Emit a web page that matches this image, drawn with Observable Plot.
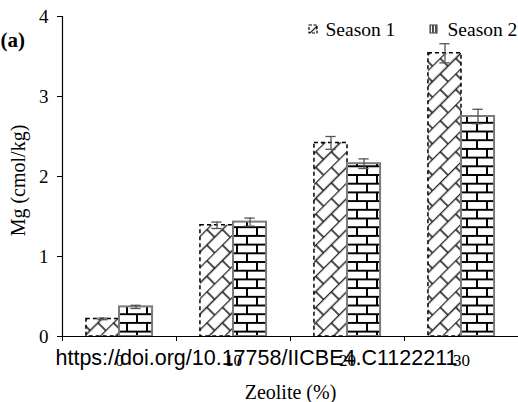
<!DOCTYPE html>
<html><head><meta charset="utf-8">
<script src="https://cdn.jsdelivr.net/npm/d3@7"></script>
<script src="https://cdn.jsdelivr.net/npm/@observablehq/plot@0.6"></script>
<style>body{margin:0;background:#fff} #chart{width:518px;height:402px}</style>
</head><body><div id="chart"></div>
<script>
const zeolite = ["0", "10", "20", "30"];
const season1 = [0.22, 1.39, 2.42, 3.54];
const season2 = [0.37, 1.43, 2.16, 2.75];
const err1 = [0.01, 0.04, 0.08, 0.12];
const err2 = [0.02, 0.05, 0.06, 0.09];
const seriesNames = ["Season 1", "Season 2"];
const yTicks = [0, 1, 2, 3, 4];
const yLabel = "Mg (cmol/kg)";
const xLabel = "Zeolite (%)";
const panelTag = "(a)";
const doiText = "https://doi.org/10.17758/IICBE4.C1122211";

const barW = 0.29;
const rows = [];
zeolite.forEach((z, i) => {
  rows.push({z, s: 0, v: season1[i], e: err1[i], x1: i + 0.5 - barW, x2: i + 0.5});
  rows.push({z, s: 1, v: season2[i], e: err2[i], x1: i + 0.5, x2: i + 0.5 + barW});
});
rows.forEach(d => d.c = (d.x1 + d.x2) / 2);
const capW = 0.045;
const serif = "'Liberation Serif', 'Times New Roman', serif";

const plot = Plot.plot({
  width: 518, height: 402,
  marginLeft: 62, marginRight: 0, marginTop: 16, marginBottom: 66,
  x: {type: "linear", domain: [0, 4]},
  y: {domain: [0, 4]},
  style: {fontFamily: serif, fontSize: "16px", background: "white", color: "black", overflow: "visible"},
  marks: [
    Plot.text([doiText], {frameAnchor: "bottom-left", dx: -7, dy: 22, textAnchor: "start", lineAnchor: "middle",
      fontFamily: "'Liberation Sans', Arial, sans-serif", fontSize: 21.5, fill: "black"}),
    Plot.rectY(rows.filter(d => d.s === 0), {x1: "x1", x2: "x2", y1: 0, y2: "v",
      fill: "url(#hatch1)", stroke: "black", strokeWidth: 1.5, strokeDasharray: "4,3"}),
    Plot.rectY(rows.filter(d => d.s === 1), {x1: "x1", x2: "x2", y1: 0, y2: "v",
      fill: "url(#brick2)", stroke: "#7a7a7a", strokeWidth: 2}),
    Plot.ruleX(rows, {x: "c", y1: d => d.v - d.e, y2: d => d.v + d.e, stroke: "#555", strokeWidth: 1.3}),
    Plot.ruleY(rows, {y: d => d.v + d.e, x1: d => d.c - capW, x2: d => d.c + capW, stroke: "#555", strokeWidth: 1.3}),
    Plot.ruleY(rows, {y: d => d.v - d.e, x1: d => d.c - capW, x2: d => d.c + capW, stroke: "#555", strokeWidth: 1.3}),
    Plot.ruleX([0], {stroke: "black", strokeWidth: 1.2}),
    Plot.ruleY([0], {stroke: "black", strokeWidth: 1.2}),
    Plot.axisY({ticks: yTicks, tickSize: 5, tickPadding: 9, fontSize: 19, label: null, tickFormat: d => String(d)}),
    Plot.axisX({ticks: [0, 1, 2, 3, 4], tickSize: 5, tickFormat: () => "", label: null}),
    Plot.axisX({ticks: zeolite.map((z, i) => i + 0.5), tickFormat: d => zeolite[Math.floor(d)],
      tickSize: 0, tickPadding: 17, fontSize: 17, label: null}),
    Plot.text([yLabel], {frameAnchor: "left", dx: -44, dy: 4, rotate: -90, textAnchor: "middle", lineAnchor: "middle", fontSize: 20}),
    Plot.text([xLabel], {frameAnchor: "bottom", dy: 56, textAnchor: "middle", lineAnchor: "middle", fontSize: 20}),
    Plot.text([panelTag], {frameAnchor: "top-left", dx: -62, dy: 24, textAnchor: "start", lineAnchor: "middle", fontWeight: "bold", fontSize: 21}),
    // legend
    Plot.rect([seriesNames[0]], {insetLeft: 309 - 62, insetRight: 518 - 317, insetTop: 25 - 16, insetBottom: 336 - 33,
      fill: "url(#hatch1)", stroke: "black", strokeWidth: 1.2, strokeDasharray: "3,1.5"}),
    Plot.rect([seriesNames[1]], {insetLeft: 430 - 62, insetRight: 518 - 437, insetTop: 25 - 16, insetBottom: 336 - 33,
      fill: "url(#brickS)", stroke: "#555", strokeWidth: 1.2}),
    Plot.text([seriesNames[0]], {frameAnchor: "top-left", dx: 325 - 62, dy: 29 - 16, textAnchor: "start", lineAnchor: "middle", fontSize: 19.5}),
    Plot.text([seriesNames[1]], {frameAnchor: "top-left", dx: 447 - 62, dy: 29 - 16, textAnchor: "start", lineAnchor: "middle", fontSize: 19.5})
  ]
});

const defs = `
<pattern id="hatch1" patternUnits="userSpaceOnUse" width="22" height="22" patternTransform="rotate(-45)">
  <rect width="22" height="22" fill="white"/>
  <path d="M0 0.5H22 M0 11.5H22 M6 0.5V11.5 M17 11.5V22.5" stroke="#222" stroke-width="1.6"/>
</pattern>
<pattern id="brick2" patternUnits="userSpaceOnUse" width="20" height="17.4" patternTransform="translate(7,1)">
  <rect width="20" height="17.4" fill="white"/>
  <path d="M0 0H20 M0 8.7H20 M0 17.4H20 M10 0V8.7 M0 8.7V17.4 M20 8.7V17.4" stroke="black" stroke-width="2"/>
</pattern>
<pattern id="brickS" patternUnits="userSpaceOnUse" width="3" height="8">
  <rect width="3" height="8" fill="white"/>
  <path d="M1 0V8" stroke="black" stroke-width="1.4"/>
</pattern>`;
d3.select(plot).insert("defs", ":first-child").html(defs);
document.getElementById("chart").appendChild(plot);
</script>
</body></html>
